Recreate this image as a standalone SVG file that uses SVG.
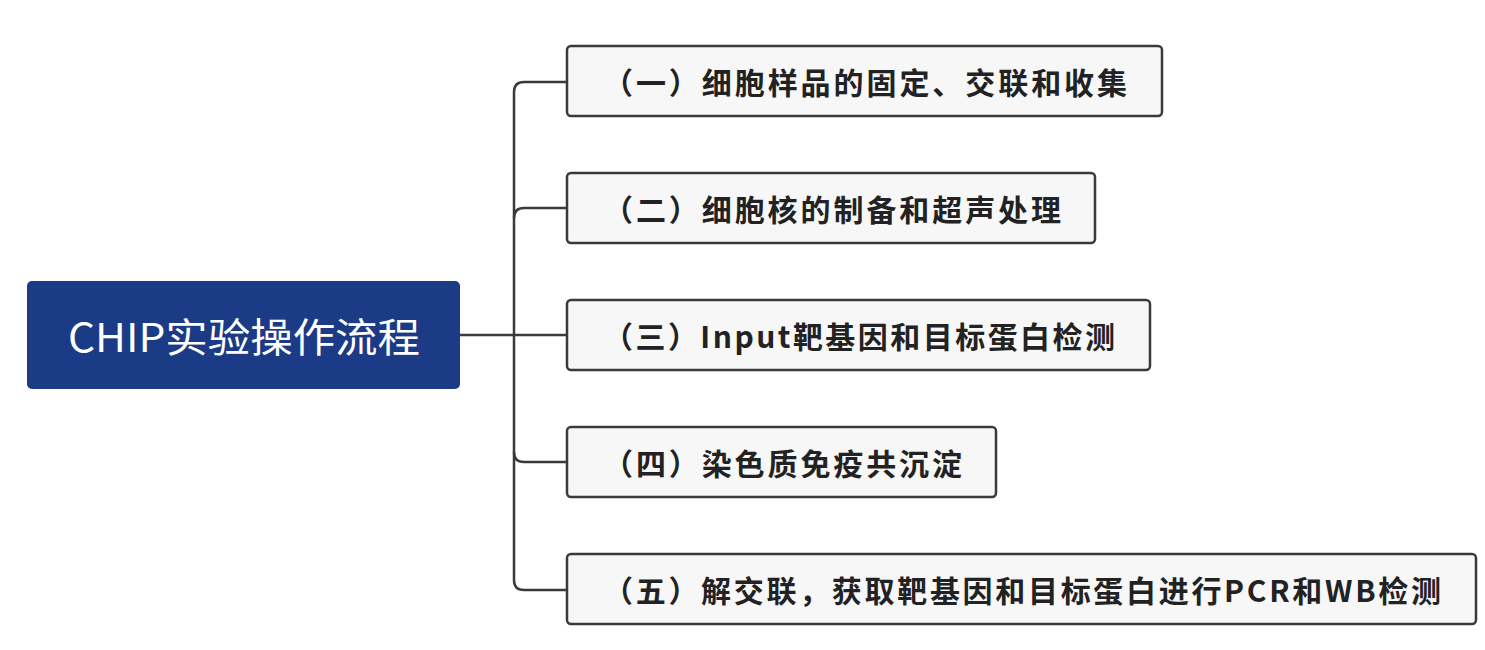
<svg xmlns="http://www.w3.org/2000/svg" width="1485" height="650" viewBox="0 0 1485 650">
<style>
.b{fill:#f7f7f7;stroke:#3a3a3a;stroke-width:2.5}
.t{font-family:"Noto Sans CJK SC","Noto Sans",sans-serif;font-size:30px;font-weight:bold;fill:#222;dominant-baseline:central}
.c{fill:none;stroke:#3a3a3a;stroke-width:2.5}
</style>
<rect width="1485" height="650" fill="#fff"/>
<g id="connectors">
<path class="c" d="M460 335H567"/>
<path class="c" d="M567 82H524Q514 82 514 92V580Q514 590 524 590H567"/>
<path class="c" d="M567 208H524Q514 208 514 218"/>
<path class="c" d="M567 462H524Q514 462 514 452"/>
</g>
<g id="root"><rect x="27" y="281" width="433" height="108" rx="5" fill="#1b3b86"/>
<text x="68" y="335" textLength="352" lengthAdjust="spacingAndGlyphs" style="font-family:'Noto Sans CJK SC','Noto Sans',sans-serif;font-size:40px;fill:#fff;dominant-baseline:central">CHIP实验操作流程</text></g>
<g id="n1"><rect class="b" x="567" y="46" width="595" height="70" rx="4"/><text class="t" x="603" y="81" textLength="524">（一）细胞样品的固定、交联和收集</text></g>
<g id="n2"><rect class="b" x="567" y="173" width="528" height="70" rx="4"/><text class="t" x="603" y="208" textLength="458">（二）细胞核的制备和超声处理</text></g>
<g id="n3"><rect class="b" x="567" y="300" width="583" height="70" rx="4"/><text class="t" x="603" y="335" textLength="512">（三）Input靶基因和目标蛋白检测</text></g>
<g id="n4"><rect class="b" x="567" y="427" width="429" height="70" rx="4"/><text class="t" x="603" y="462" textLength="359">（四）染色质免疫共沉淀</text></g>
<g id="n5"><rect class="b" x="567" y="554" width="909" height="70" rx="4"/><text class="t" x="603" y="589" textLength="838">（五）解交联，获取靶基因和目标蛋白进行PCR和WB检测</text></g>
</svg>
